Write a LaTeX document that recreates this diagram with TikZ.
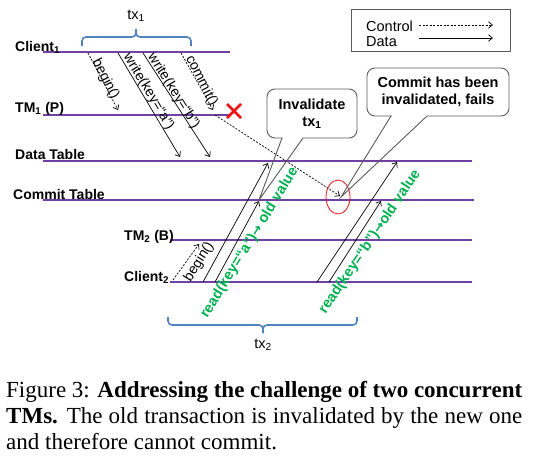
\documentclass[tikz,border=0pt]{standalone}
\usepackage{fontspec}
\setmainfont{Liberation Serif}
\newfontfamily\arial{Liberation Sans}
\newfontfamily\djv{DejaVu Sans}
\usetikzlibrary{arrows.meta,shapes.geometric}
\definecolor{tlpurple}{RGB}{112,64,165}
\definecolor{brblue}{RGB}{79,129,189}
\definecolor{rdgreen}{RGB}{0,176,80}
\definecolor{xred}{RGB}{235,20,20}
\definecolor{boxgray}{RGB}{90,90,90}
\newcommand{\rarr}{{\djv\bfseries\fontsize{13}{16}\selectfont →}}
\tikzset{
 timeline/.style={draw=tlpurple, line width=1.3pt},
 tllabel/.style={font=\arial\bfseries\fontsize{14}{16}\selectfont, anchor=base west, inner sep=0},
 msg/.style={draw=black, line width=0.7pt, -{Straight Barb[length=4pt,width=6.5pt]}},
 ctrl/.style={msg, dash pattern=on 2pt off 1.5pt},
 msglabel/.style={font=\arial\fontsize{14}{16}\selectfont, inner sep=0},
 readlabel/.style={font=\arial\bfseries\fontsize{14.5}{16}\selectfont, text=rdgreen, inner sep=0},
 calloutbox/.style={draw=boxgray, line width=0.9pt, rounded corners=8pt, fill=white, inner sep=0, align=center, font=\arial\bfseries\fontsize{14.5}{17}\selectfont},
 pointer/.style={draw=boxgray, line width=0.9pt},
 bracestyle/.style={draw=brblue, line width=1.6pt, rounded corners=4pt},
 legtext/.style={font=\arial\fontsize{14.5}{16}\selectfont, anchor=base west, inner sep=0},
}
\begin{document}
\begin{tikzpicture}[x=1pt,y=-1pt]
\useasboundingbox (0,0) rectangle (534,464);
% timelines
\coordinate (c1a) at (43,52);  \coordinate (c1b) at (230,52);
\coordinate (t1a) at (43,115); \coordinate (t1b) at (230,115);
\coordinate (dta) at (43,161); \coordinate (dtb) at (472,161);
\coordinate (cta) at (43,200); \coordinate (ctb) at (474,200);
\coordinate (t2a) at (170,240); \coordinate (t2b) at (472,240);
\coordinate (c2a) at (170,282); \coordinate (c2b) at (472,282);
\draw[timeline] (c1a) -- (c1b);
\draw[timeline] (t1a) -- (t1b);
\draw[timeline] (dta) -- (dtb);
\draw[timeline] (cta) -- (ctb);
\draw[timeline] (t2a) -- (t2b);
\draw[timeline] (c2a) -- (c2b);
% timeline labels
\node[tllabel] (lc1) at (15,51) {Client\textsubscript{1}};
\node[tllabel] (ltm1) at (15,112) {TM\textsubscript{1} (P)};
\node[tllabel] (ldt) at (15,159) {Data Table};
\node[tllabel] (lct) at (13,199) {Commit Table};
\node[tllabel] (ltm2) at (124,240) {TM\textsubscript{2} (B)};
\node[tllabel] (lc2) at (124,281) {Client\textsubscript{2}};
% legend
\node[draw=boxgray, line width=0.9pt, minimum width=159pt, minimum height=42pt, inner sep=0] (legend) at (430.5,30.5) {};
\node[legtext] (lgc) at (366,31) {Control};
\node[legtext] (lgd) at (366,46) {Data};
\coordinate (lg1s) at (419,25); \coordinate (lg1e) at (493,25);
\coordinate (lg2s) at (419,38); \coordinate (lg2e) at (493,38);
\draw[ctrl] (lg1s) -- (lg1e);
\draw[msg] (lg2s) -- (lg2e);
% tx1 brace
\coordinate (tx1l) at (82,46); \coordinate (tx1r) at (191,46);
\coordinate (tx1m) at (136,37); \coordinate (tx1t) at (136,29);
\draw[bracestyle] (tx1l) |- (tx1m) -- (tx1t);
\draw[bracestyle] (tx1r) |- (tx1m) -- (tx1t);
\node[font=\arial\fontsize{14.5}{16}\selectfont, inner sep=0] (tx1) at (136,16) {tx\textsubscript{1}};
% tx2 brace
\coordinate (tx2l) at (168,317); \coordinate (tx2r) at (357,317);
\coordinate (tx2m) at (263,325); \coordinate (tx2t) at (263,333);
\draw[bracestyle] (tx2l) |- (tx2m) -- (tx2t);
\draw[bracestyle] (tx2r) |- (tx2m) -- (tx2t);
\node[font=\arial\fontsize{14.5}{16}\selectfont, inner sep=0] (tx2) at (263,345) {tx\textsubscript{2}};
% tx1 messages
\coordinate (b1s) at (88,53);  \coordinate (b1e) at (118,110);
\coordinate (was) at (118,53); \coordinate (wae) at (180,157);
\coordinate (wbs) at (143,53); \coordinate (wbe) at (210,157);
\coordinate (cms) at (181,53); \coordinate (cme) at (213,110);
\draw[ctrl] (b1s) -- (b1e);
\draw[msg] (was) -- (wae);
\draw[msg] (wbs) -- (wbe);
\draw[ctrl] (cms) -- (cme);
\node[msglabel, rotate=-63] (lb1) at (105.5,79) {begin()};
\node[msglabel, rotate=-59] (lwa) at (148.5,91.5) {write(key=“a”)};
\node[msglabel, rotate=-58] (lwb) at (173.5,91) {write(key=“b”)};
\node[msglabel, rotate=-63] (lcm) at (201.5,81) {commit()};
% red cross
\coordinate (xa) at (227,104); \coordinate (xb) at (241,118);
\coordinate (xc) at (227,118); \coordinate (xd) at (241,104);
\draw[xred, line width=2.8pt] (xa) -- (xb);
\draw[xred, line width=2.8pt] (xc) -- (xd);
% failed commit to commit table
\coordinate (fcs) at (215,115); \coordinate (fce) at (340,196);
\draw[ctrl] (fcs) -- (fce);
\node[draw=xred, line width=0.8pt, ellipse, minimum width=24pt, minimum height=34pt, inner sep=0] (hit) at (338,197) {};
% tx2 messages
\coordinate (b2s) at (173,280); \coordinate (b2e) at (199,244);
\coordinate (r1s) at (203,282); \coordinate (r1e) at (268,163);
\coordinate (r2s) at (215,282); \coordinate (r2e) at (259,201);
\coordinate (r3s) at (317,282); \coordinate (r3e) at (397,162);
\coordinate (r4s) at (329,282); \coordinate (r4e) at (381,201);
\draw[ctrl] (b2s) -- (b2e);
\draw[msg] (r1s) -- (r1e);
\draw[msg] (r2s) -- (r2e);
\draw[msg] (r3s) -- (r3e);
\draw[msg] (r4s) -- (r4e);
\node[msglabel, rotate=58] (lb2) at (199,262) {begin()};
\node[readlabel, rotate=58.5] (rla) at (249.5,243) {read(key=“a”)\rarr{} old value};
\node[readlabel, rotate=56] (rlb) at (370,242) {read(key=“b”)\rarr{}old value};
% callouts
\node[calloutbox, minimum width=142pt, minimum height=48pt] (cfail) at (438,92) {Commit has been\\invalidated, fails};
\node[calloutbox, minimum width=90pt, minimum height=49pt] (cinv) at (312,113.5) {Invalidate\\tx\textsubscript{1}};
\coordinate (cf1) at (391,116); \coordinate (cf2) at (427,116); \coordinate (cft) at (341,197);
\coordinate (ci1) at (282,138); \coordinate (ci2) at (303,138); \coordinate (cit) at (259,200);
\fill[white] (391.5,114.3) rectangle (426.5,117.7);
\fill[white] (282.5,136.3) rectangle (302.5,139.7);
\draw[pointer] (cf1) -- (cft) -- (cf2);
\draw[pointer] (ci1) -- (cit) -- (ci2);
% caption
\node[anchor=base west, inner sep=0] (caption) at (6,397) {\parbox[t]{516pt}{\fontsize{23}{26}\selectfont\hyphenpenalty=10000
Figure 3: \textbf{Addressing the challenge of two concurrent\linebreak TMs.} The old transaction is invalidated by the new one\linebreak and therefore cannot commit.}};
\end{tikzpicture}
\end{document}
